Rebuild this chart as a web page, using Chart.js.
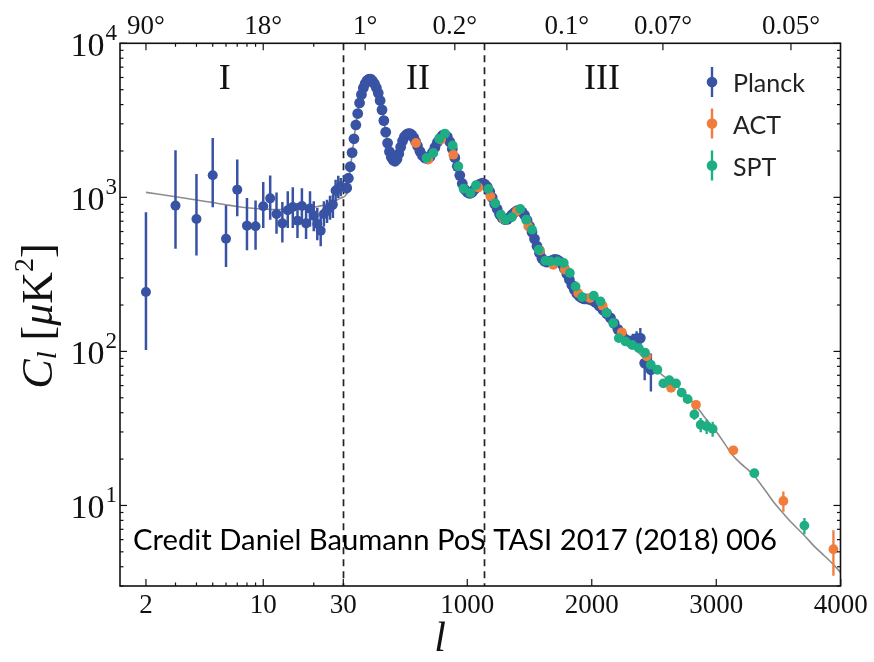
<!DOCTYPE html>
<html><head><meta charset="utf-8">
<script src="https://cdn.jsdelivr.net/npm/chart.js@4/dist/chart.umd.min.js"></script>
<style>html,body{margin:0;padding:0;background:#fff;}#wrap{width:874px;height:662px;}</style>
</head><body><div id="wrap"><canvas id="c" width="874" height="662"></canvas></div>
<script>
// ---------------- data ----------------
const planckLowL  = [2,3,4,5,6,7,8,9,10,11,12,13,14,15,16,17,18,19,20,21,22,23,24,25,26,27,28,29];
const planckLowD  = [243,884,724,1390,539,1122,655,649,875,985,780,678,824,866,706,879,678,845,761,672,608,780,824,861,897,1106,1138,1180];
const planckLowLo = [102,464,420,861,353,753,453,457,633,716,581,510,632,632,545,682,537,648,602,526,481,648,682,716,734,942,991,1015];
const planckLowHi = [800,2020,1418,2430,888,1759,990,955,1259,1384,1076,933,1094,1161,920,1144,884,1094,942,853,772,942,966,1026,1041,1302,1383,1336];

const planckHiL = [32,45,60,75,90,105,120,135,150,165,
  180,195,210,225,240,255,270,285,300,315,
  330,345,360,375,390,405,420,435,450,465,
  480,495,510,525,540,555,570,585,600,
  620,640,660,680,700,720,740,760,780,800,
  820,840,860,880,900,920,940,960,980,1000,
  1020,1040,1060,1080,1100,1120,1140,1160,1180,1200,
  1220,1240,1260,1280,1300,1320,1340,1360,1380,1400,
  1420,1440,1460,1480,1500,1520,1540,1560,1580,1600,
  1620,1640,1660,1680,1700,1720,1740,1760,1780,1800,
  1820,1840,1860,1880,1900,1920,1940,1960,1980,2000,
  2030,2060,2090,2120,2150,2180,2210,2240,2270,2300,2330,2360,2390,
  2425,2475];
const planckHiD = [1150,1330,1580,1950,2400,2950,3500,4100,4650,5130,
  5480,5720,5850,5850,5680,5450,5150,4750,4250,3700,
  3150,2650,2250,1980,1820,1740,1715,1770,1920,2120,
  2320,2470,2550,2590,2590,2540,2440,2300,2160,
  1990,1870,1800,1780,1830,1950,2110,2280,2410,2520,
  2560,2470,2290,2060,1810,1590,1390,1230,1125,1080,
  1062,1080,1130,1185,1220,1235,1218,1172,1092,998,
  908,840,776,735,718,720,742,772,800,820,
  822,804,766,710,650,595,538,482,435,402,
  385,380,384,390,395,394,385,368,344,318,
  293,270,252,238,228,222,219,219,218,215,
  208,197,186,176,165,152,139,129,120,116,118,121,122,
  84,76];
const planckHiErr = [90,90,90,90,90,90,90,90,90,90,
  90,90,90,90,90,90,80,80,70,60,
  55,50,45,40,36,35,35,35,38,40,
  42,42,42,42,42,42,40,38,36,
  34,32,30,30,30,32,34,36,36,36,
  36,36,34,30,28,25,22,20,18,17,
  17,17,17,18,18,18,18,18,17,16,
  15,14,13,12,12,12,12,12,12,12,
  12,12,12,11,11,10,9,8,7,7,
  7,6,6,6,6,6,6,6,6,6,
  5,5,5,5,5,5,5,5,5,5,
  5,5,5,5,5,6,6,7,10,10,12,14,20,
  19,21];

const actL   = [588,687,789,888,1089,1186,1290,1397,1490,1584,1691,1784,1891,1985,2087,2241,2441,2637,2837,3137,3539,3941];
const actD   = [2253,1757,2370,1892,1160,1015,725,811,649,453,365,340,239,222,198,133,93,58,45,22.8,10.7,5.2];
const actErr = [45,35,45,35,20,18,14,14,12,9,7,7,5,5,4,4,4,3,2,1.2,1.6,1.7];

const sptL = [673,727,775,821,883,928,970,1025,1070,1170,
  1224,1270,1305,1359,1426,1474,1520,1574,1628,1668,
  1727,1775,1824,1870,1923,2016,2070,2118,2172,2217,
  2271,2325,2378,2428,2474,2527,2575,2623,2677,2722,
  2770,2824,2875,2923,2971,3306,3708];
const sptD = [1803,1940,2395,2590,2170,1588,1140,1068,1200,1135,
  915,772,716,745,840,716,617,457,388,384,
  384,375,323,264,225,230,211,178,153,122,
  116,110,105,98,82,76,62,65,62,54,
  49,39,33.4,32.6,31.4,16.2,7.4];
const sptErr = [30,30,35,35,30,25,18,16,18,17,
  14,12,11,11,12,11,9,7,6,6,
  6,6,5,4,4,4,4,3,3,3,
  3,3,3,3,3,3,3,3,3,3,
  3,3,3.5,3.5,3.5,0.9,0.9];

const theoryL = [2,3,4,5,6,7,8,10,12,15,18,20,22,25,27,29,
  32,45,60,75,90,105,120,135,150,165,180,195,210,225,240,255,270,285,300,315,330,345,360,375,390,405,420,435,450,465,480,495,510,525,540,555,570,585,600,
  620,640,660,680,700,720,740,760,780,800,820,840,860,880,900,920,940,960,980,1000,
  1020,1040,1060,1080,1100,1120,1140,1160,1180,1200,1220,1240,1260,1280,1300,1320,1340,1360,1380,1400,
  1420,1440,1460,1480,1500,1520,1540,1560,1580,1600,1620,1640,1660,1680,1700,1720,1740,1760,1780,1800,
  1820,1840,1860,1880,1900,1920,1940,1960,1980,2000,
  2040,2080,2120,2160,2200,2240,2280,2320,2360,2400,2440,2480,2520,2560,2600,2650,2700,2750,2800,2850,2900,2950,3000,
  3070,3135,3200,3250,3309,3400,3470,3537,3600,3698,3800,3870,3939,4000];
const theoryD = [1077,1010,960,925,895,872,857,840,833,835,848,862,880,915,950,990,
  1060,1250,1520,1900,2380,2950,3520,4100,4650,5130,5480,5720,5840,5840,5680,5430,5130,4730,4250,3700,3150,2650,2250,1980,1820,1740,1715,1770,1920,2120,2320,2470,2550,2590,2590,2540,2440,2300,2160,
  1990,1870,1800,1780,1830,1950,2110,2280,2410,2520,2560,2470,2290,2060,1810,1590,1390,1230,1125,1080,
  1062,1080,1130,1185,1220,1235,1218,1172,1092,998,908,840,776,735,718,720,742,772,800,820,
  822,804,766,710,650,595,538,482,435,402,385,380,384,390,395,394,385,368,344,318,
  293,270,252,238,228,222,219,219,218,215,
  205,190,174,157,142,129,118,109,101,94,88,82,76,71,67,62,58,53,48,43,38,34,30.2,
  25,21,18.6,17.2,15.4,12.3,10.3,8.9,7.8,6.5,5.3,4.7,4.15,3.66];

const bottomTickLabels = ['2','10','30','1000','2000','3000','4000'];
const bottomTickL = [2,10,30,1000,2000,3000,4000];
const topTickLabels = ['90°','18°','1°','0.2°','0.1°','0.07°','0.05°'];
const topTickDeg = [90,18,1,0.2,0.1,0.07,0.05];
const regionLabels = ['I','II','III'];
const regionLabelL = [5.9,604,2082];
const dividerL = [30,1135];
const yTickExp = [1,2,3,4];

// ---------------- axis geometry (hybrid log / linear l-axis) ----------------
const LOG_PX_PER_DEC = 167.8, LIN_PX_PER_L = 0.1245, LIN_OFFSET = 3.2;
function lpos(l){ return l <= 30 ? LOG_PX_PER_DEC*Math.log10(l/30) : LIN_OFFSET + LIN_PX_PER_L*(l-30); }

const C_PLANCK = '#3953a4', C_ACT = '#f07d3c', C_SPT = '#1eae84', C_TH = '#8c8c8c';

function pts(L, D){ return L.map((l,i)=>({x: lpos(l), y: D[i]})); }
function barsSym(D, E){ return D.map((d,i)=>[d-E[i], d+E[i]]); }

const datasets = [
  {label:'SPT', data: pts(sptL,sptD), bars: barsSym(sptD,sptErr), order:1,
   backgroundColor:C_SPT, borderColor:C_SPT, pointRadius:4.9, pointBorderWidth:0, errW:2.3, showLine:false},
  {label:'ACT', data: pts(actL,actD), bars: barsSym(actD,actErr), order:2,
   backgroundColor:C_ACT, borderColor:C_ACT, pointRadius:4.9, pointBorderWidth:0, errW:2.3, showLine:false},
  {label:'Planck', data: pts(planckHiL,planckHiD), bars: barsSym(planckHiD,planckHiErr), order:3,
   backgroundColor:C_PLANCK, borderColor:C_PLANCK, pointRadius:5.4, pointBorderWidth:0, errW:2.4, showLine:false},
  {label:'Planck low', data: pts(planckLowL,planckLowD), bars: planckLowLo.map((lo,i)=>[lo, planckLowHi[i]]), order:3,
   backgroundColor:C_PLANCK, borderColor:C_PLANCK, pointRadius:5, pointBorderWidth:0, errW:2.5, showLine:false},
  {label:'theory', type:'line', data: pts(theoryL,theoryD), order:4,
   borderColor:C_TH, borderWidth:1.6, pointRadius:0, cubicInterpolationMode:'monotone', fill:false}
];

const SERIF = '"Liberation Serif", "DejaVu Serif", serif';
const SANS = 'Lato, "Open Sans", sans-serif';

const decor = {
  id:'decor',
  beforeDraw(chart){
    const ctx = chart.ctx; ctx.save(); ctx.fillStyle='#fff'; ctx.fillRect(0,0,chart.width,chart.height); ctx.restore();
  },
  beforeDatasetsDraw(chart){
    const {ctx, chartArea:a, scales:{x}} = chart;
    ctx.save(); ctx.strokeStyle='#222'; ctx.lineWidth=1.7; ctx.setLineDash([7,5]);
    dividerL.forEach(l=>{ const px = Math.round(x.getPixelForValue(lpos(l)))+0.5;
      ctx.beginPath(); ctx.moveTo(px,a.top); ctx.lineTo(px,a.bottom); ctx.stroke(); });
    ctx.restore();
  },
  beforeDatasetDraw(chart, args){
    const ds = chart.data.datasets[args.index]; if(!ds.bars) return;
    const {ctx, chartArea:a, scales:{x,y}} = chart;
    ctx.save(); ctx.beginPath(); ctx.rect(a.left,a.top,a.right-a.left,a.bottom-a.top); ctx.clip();
    ctx.strokeStyle = ds.borderColor; ctx.lineWidth = ds.errW; ctx.lineCap='butt';
    ds.data.forEach((p,i)=>{ const b = ds.bars[i]; const px = x.getPixelForValue(p.x);
      const y1 = y.getPixelForValue(Math.max(b[0],0.01)), y2 = y.getPixelForValue(b[1]);
      ctx.beginPath(); ctx.moveTo(px,y1); ctx.lineTo(px,y2); ctx.stroke(); });
    ctx.restore();
  },
  afterDraw(chart){
    const {ctx, chartArea:a, scales:{x,y}} = chart;
    ctx.save();
    ctx.strokeStyle='#111'; ctx.lineWidth=1.6;
    ctx.strokeRect(a.left, a.top, a.right-a.left, a.bottom-a.top);
    ctx.lineWidth=1.2;
    const tick=(x1,y1,x2,y2)=>{ctx.beginPath();ctx.moveTo(x1,y1);ctx.lineTo(x2,y2);ctx.stroke();};
    const minorL=[3,4,5,6,7,8,9,20];
    bottomTickL.forEach(l=>{const px=x.getPixelForValue(lpos(l)); tick(px,a.bottom,px,a.bottom-7);});
    minorL.forEach(l=>{const px=x.getPixelForValue(lpos(l)); tick(px,a.bottom,px,a.bottom-3.5);});
    [2,10].forEach(l=>{const px=x.getPixelForValue(lpos(l)); tick(px,a.top,px,a.top+7);});
    minorL.forEach(l=>{const px=x.getPixelForValue(lpos(l)); tick(px,a.top,px,a.top+3.5);});
    topTickDeg.slice(2).forEach(d=>{const px=x.getPixelForValue(lpos(180/d)); tick(px,a.top,px,a.top+7);});
    for(let e=0;e<=4;e++){
      for(let k=1;k<=9;k++){
        const v=k*Math.pow(10,e); if(v<3||v>10000) continue;
        const py=y.getPixelForValue(v); const len = k===1?7:3.5;
        tick(a.left,py,a.left+len,py); tick(a.right,py,a.right-len,py);
      }
    }
    ctx.fillStyle='#111';
    ctx.font='27px '+SERIF; ctx.textAlign='center'; ctx.textBaseline='middle';
    bottomTickL.forEach((l,i)=>{ctx.fillText(bottomTickLabels[i], x.getPixelForValue(lpos(l)), 606);});
    topTickDeg.forEach((d,i)=>{ctx.fillText(topTickLabels[i], x.getPixelForValue(lpos(180/d)), 27);});
    yTickExp.forEach(e=>{
      const py=y.getPixelForValue(Math.pow(10,e));
      ctx.textAlign='right';
      ctx.font='23px '+SERIF; const ew=ctx.measureText(String(e)).width;
      ctx.fillText(String(e), 117, py-9);
      ctx.font='34px '+SERIF; ctx.fillText('10', 117-ew-1, py+4);
    });
    ctx.font='36px '+SERIF; ctx.textAlign='center';
    regionLabels.forEach((t,i)=>ctx.fillText(t, x.getPixelForValue(lpos(regionLabelL[i])), 80));
    ctx.font='italic 42px '+SERIF; ctx.fillText('l', 440, 640);
    ctx.save(); ctx.translate(40, 316); ctx.rotate(-Math.PI/2);
    const parts=[['italic 44px '+SERIF,'C',0],['italic 28px '+SERIF,'l',9],['44px '+SERIF,' [',0],['italic 44px '+SERIF,'μ',0],['44px '+SERIF,'K',0],['28px '+SERIF,'2',-14],['44px '+SERIF,']',0]];
    let tw=0; parts.forEach(p=>{ctx.font=p[0]; tw+=ctx.measureText(p[1]).width;});
    let cx=-tw/2; ctx.textAlign='left'; ctx.textBaseline='middle';
    parts.forEach(p=>{ctx.font=p[0]; ctx.fillText(p[1],cx,p[2]); cx+=ctx.measureText(p[1]).width;});
    ctx.restore();
    const credit='Credit Daniel Baumann PoS TASI 2017 (2018) 006';
    ctx.font='100px '+SANS; const w100=ctx.measureText(credit).width; const fs=100*644/w100;
    ctx.font=fs.toFixed(2)+'px '+SANS; ctx.textAlign='left'; ctx.fillStyle='#000';
    ctx.fillText(credit, 133, 541);
    const leg=[['Planck',C_PLANCK,82],['ACT',C_ACT,123.5],['SPT',C_SPT,165.5]];
    leg.forEach(([t,c,ly])=>{
      ctx.strokeStyle=c; ctx.fillStyle=c; ctx.lineWidth=2.4;
      ctx.beginPath(); ctx.moveTo(712,ly-15); ctx.lineTo(712,ly+15); ctx.stroke();
      ctx.beginPath(); ctx.arc(712,ly,5.3,0,Math.PI*2); ctx.fill();
      ctx.fillStyle='#222'; ctx.font='25px '+SANS; ctx.textAlign='left'; ctx.textBaseline='middle';
      ctx.fillText(t, 733, ly+2);
    });
    ctx.restore();
  }
};

new Chart(document.getElementById('c'), {
  type:'scatter',
  data:{datasets},
  options:{
    responsive:false, animation:false, devicePixelRatio:1,
    layout:{padding:{left:120, right:33.5, top:43.3, bottom:76}},
    plugins:{legend:{display:false}, tooltip:{enabled:false}},
    scales:{
      x:{type:'linear', min:-223.3, max:497.2, display:false},
      y:{type:'logarithmic', min:3, max:10000, display:false}
    }
  },
  plugins:[decor]
});
</script></body></html>
